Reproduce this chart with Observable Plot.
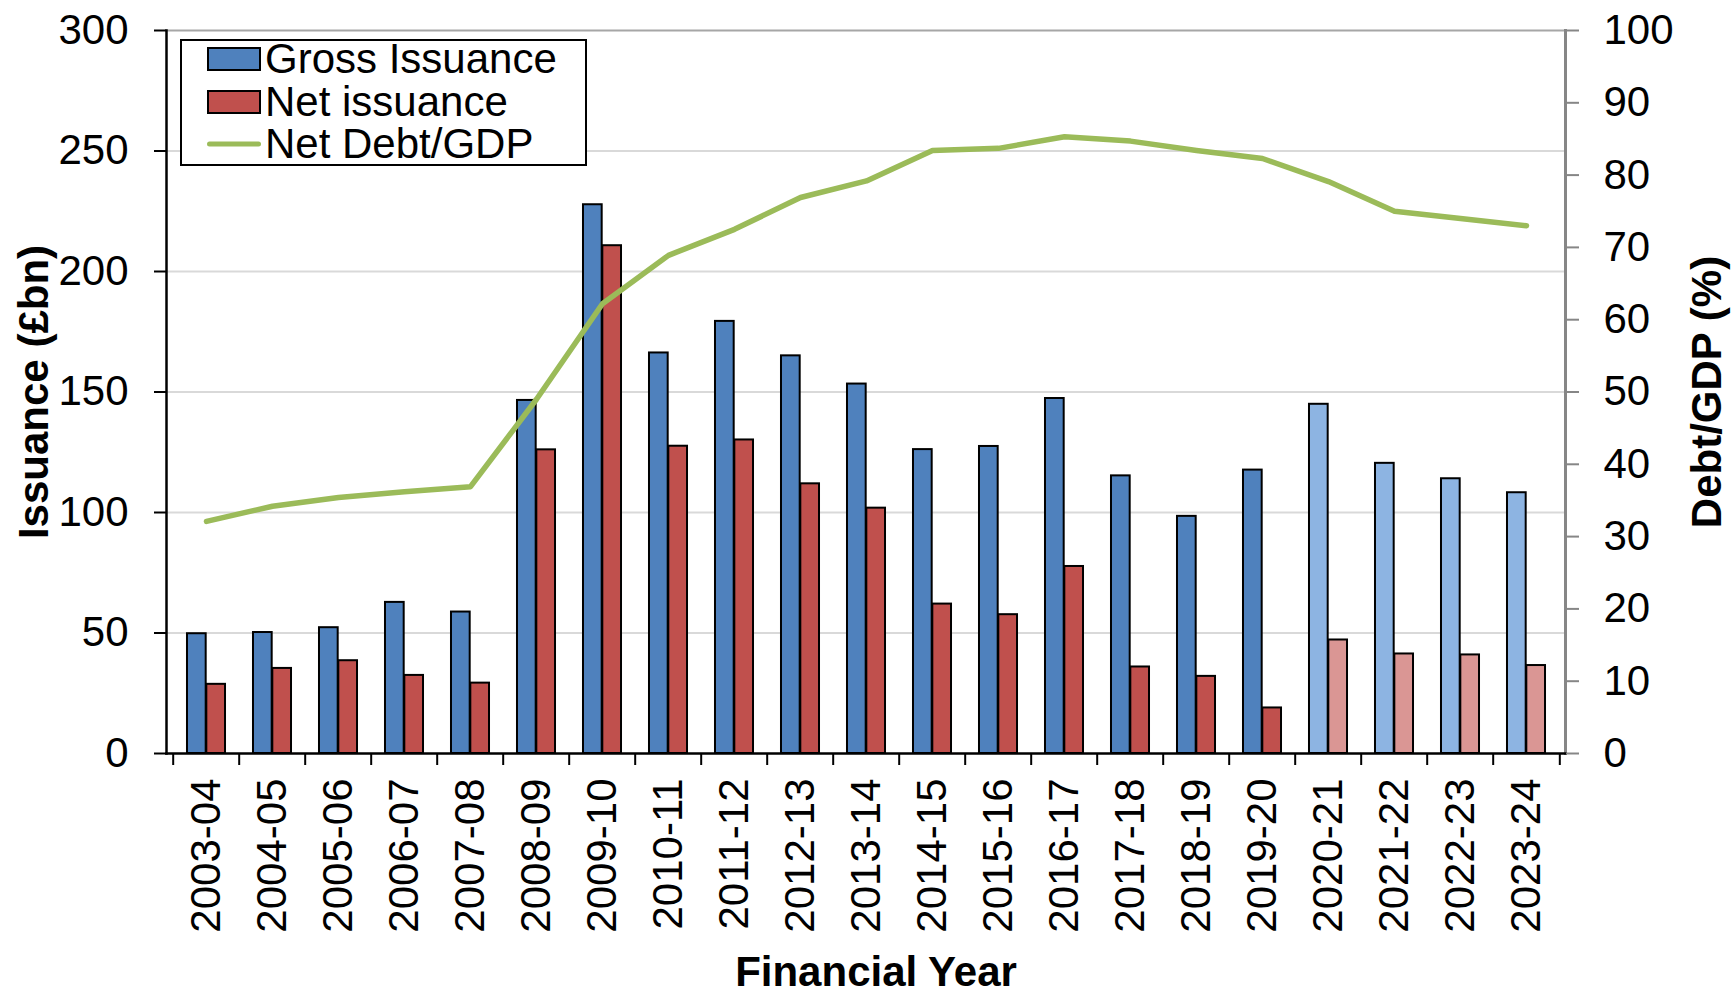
<!DOCTYPE html>
<html>
<head>
<meta charset="utf-8">
<script src="https://cdn.jsdelivr.net/npm/d3@7"></script>
<script src="https://cdn.jsdelivr.net/npm/@observablehq/plot@0.6"></script>
<style>
  html, body { margin: 0; padding: 0; background: #fff; }
  #wrap { position: relative; width: 1733px; height: 996px; font-family: "Liberation Sans", Arial, sans-serif; }
  #legend { position: absolute; left: 180px; top: 39px; width: 403px; height: 123px; border: 2px solid #000; background: #fff; }
  .sw { position: absolute; left: 25px; width: 50px; height: 20px; border: 2px solid #000; transform: translateY(-50%); }
  .ln { position: absolute; left: 25px; width: 54px; height: 5px; border-radius: 3px; background: #9BBB59; transform: translateY(-50%); }
  .lt { position: absolute; left: 83px; font-size: 42px; line-height: 0.92; color: #000; white-space: nowrap; transform: translateY(-50%); }
</style>
</head>
<body>
<div id="wrap">
  <div id="chart"></div>
  <div id="legend"></div>
</div>
<script>
// ---- data ----
const years = ["2003-04","2004-05","2005-06","2006-07","2007-08","2008-09","2009-10","2010-11","2011-12","2012-13","2013-14","2014-15","2015-16","2016-17","2017-18","2018-19","2019-20","2020-21","2021-22","2022-23","2023-24"];
const grossIssuance = [49.7, 50.2, 52.2, 62.7, 58.7, 146.5, 227.7, 166.2, 179.3, 165.0, 153.3, 126.1, 127.4, 147.3, 115.2, 98.4, 117.6, 144.9, 120.4, 114.0, 108.2];
const netIssuance = [28.7, 35.3, 38.5, 32.4, 29.2, 126.0, 210.7, 127.5, 130.1, 111.9, 101.8, 62.0, 57.6, 77.6, 35.9, 32.0, 18.9, 47.1, 41.3, 40.9, 36.5];
const netDebtGDP = [32.1, 34.2, 35.4, 36.2, 36.9, 49.0, 62.2, 68.9, 72.5, 76.9, 79.2, 83.4, 83.7, 85.3, 84.7, 83.4, 82.3, 79.1, 75.0, 74.0, 73.0];
const firstProjectedYear = "2020-21";
const leftTicks = [0, 50, 100, 150, 200, 250, 300];
const rightTicks = [0, 10, 20, 30, 40, 50, 60, 70, 80, 90, 100];
const legendLabels = ["Gross Issuance", "Net issuance", "Net Debt/GDP"];

// ---- layout / style ----
const W = 1733, H = 996, mL = 166, mR = 168, mT = 30, mB = 243;
const bw = (W - mL - mR) / years.length;
const ratio = leftTicks[leftTicks.length - 1] / rightTicks[rightTicks.length - 1];
const pIdx = years.indexOf(firstProjectedYear);
const rows = years.map((y, i) => ({year: y, gross: grossIssuance[i], net: netIssuance[i], debt: netDebtGDP[i], projected: i >= pIdx}));
const C = {gross: "#4F81BD", grossP: "#8DB4E2", net: "#C0504D", netP: "#DA9694", line: "#9BBB59"};
const outer = bw * 0.21, inner = bw * 0.5;

const chart = Plot.plot({
  width: W, height: H,
  marginLeft: mL, marginRight: mR, marginTop: mT, marginBottom: mB,
  style: {fontFamily: '"Liberation Sans", Arial, sans-serif', fontSize: "42px", color: "#000", background: "#fff", overflow: "visible"},
  x: {type: "band", domain: years, padding: 0, label: null},
  y: {domain: [0, 300], label: null},
  marks: [
    Plot.gridY(leftTicks.slice(1, -1), {stroke: "#d9d9d9", strokeOpacity: 1, strokeWidth: 2}),
    Plot.frame({anchor: "top", stroke: "#a6a6a6", strokeWidth: 2}),
    Plot.barY(rows, {x: "year", y: "gross", fill: d => d.projected ? C.grossP : C.gross, stroke: "#000", strokeWidth: 2, insetLeft: outer, insetRight: inner}),
    Plot.barY(rows, {x: "year", y: "net", fill: d => d.projected ? C.netP : C.net, stroke: "#000", strokeWidth: 2, insetLeft: inner, insetRight: outer}),
    Plot.line(rows, {x: "year", y: d => d.debt * ratio, stroke: C.line, strokeWidth: 5.5, strokeLinejoin: "round", strokeLinecap: "round"}),
    Plot.frame({anchor: "left", stroke: "#000", strokeWidth: 2.5}),
    Plot.frame({anchor: "right", stroke: "#868686", strokeWidth: 3}),
    Plot.frame({anchor: "bottom", stroke: "#000", strokeWidth: 2.5}),
    Plot.axisY({anchor: "left", ticks: leftTicks, tickSize: 12, tickPadding: 26, stroke: "#000", strokeWidth: 2, fill: "#000", label: null}),
    Plot.axisY({anchor: "right", ticks: rightTicks.map(v => v * ratio), tickFormat: d => String(Math.round(d / ratio)), tickSize: 13, tickPadding: 25, stroke: "#868686", strokeWidth: 2, fill: "#000", label: null}),
    Plot.axisX({anchor: "bottom", tickSize: 12, fill: "none", dx: -bw / 2, stroke: "#000", strokeWidth: 2, label: null}),
    Plot.axisX({anchor: "bottom", ticks: [years[years.length - 1]], tickSize: 12, fill: "none", dx: bw / 2, stroke: "#000", strokeWidth: 2, label: null}),
    Plot.axisX({anchor: "bottom", tickSize: 0, tickPadding: 25, tickRotate: -90, fill: "#000", label: null}),
    Plot.text(["Issuance (£bn)"], {text: d => d, frameAnchor: "left", textAnchor: "middle", rotate: -90, dx: -132, fontWeight: "bold", fill: "#000"}),
    Plot.text(["Debt/GDP (%)"], {text: d => d, frameAnchor: "right", textAnchor: "middle", rotate: -90, dx: 142, fontWeight: "bold", fill: "#000"}),
    Plot.text(["Financial Year"], {text: d => d, frameAnchor: "bottom", textAnchor: "middle", dy: 232, dx: 10, fontWeight: "bold", fill: "#000"})
  ]
});
document.getElementById("chart").appendChild(chart);

// ---- legend (overlay) ----
const lg = document.getElementById("legend");
const centers = [17.6, 60.7, 102.7];
const swatchColors = [C.gross, C.net];
legendLabels.forEach((lab, i) => {
  const s = document.createElement("div");
  if (i < 2) { s.className = "sw"; s.style.background = swatchColors[i]; }
  else { s.className = "ln"; }
  s.style.top = centers[i] + "px";
  lg.appendChild(s);
  const t = document.createElement("div");
  t.className = "lt";
  t.style.top = centers[i] + "px";
  t.textContent = lab;
  lg.appendChild(t);
});
</script>
</body>
</html>
